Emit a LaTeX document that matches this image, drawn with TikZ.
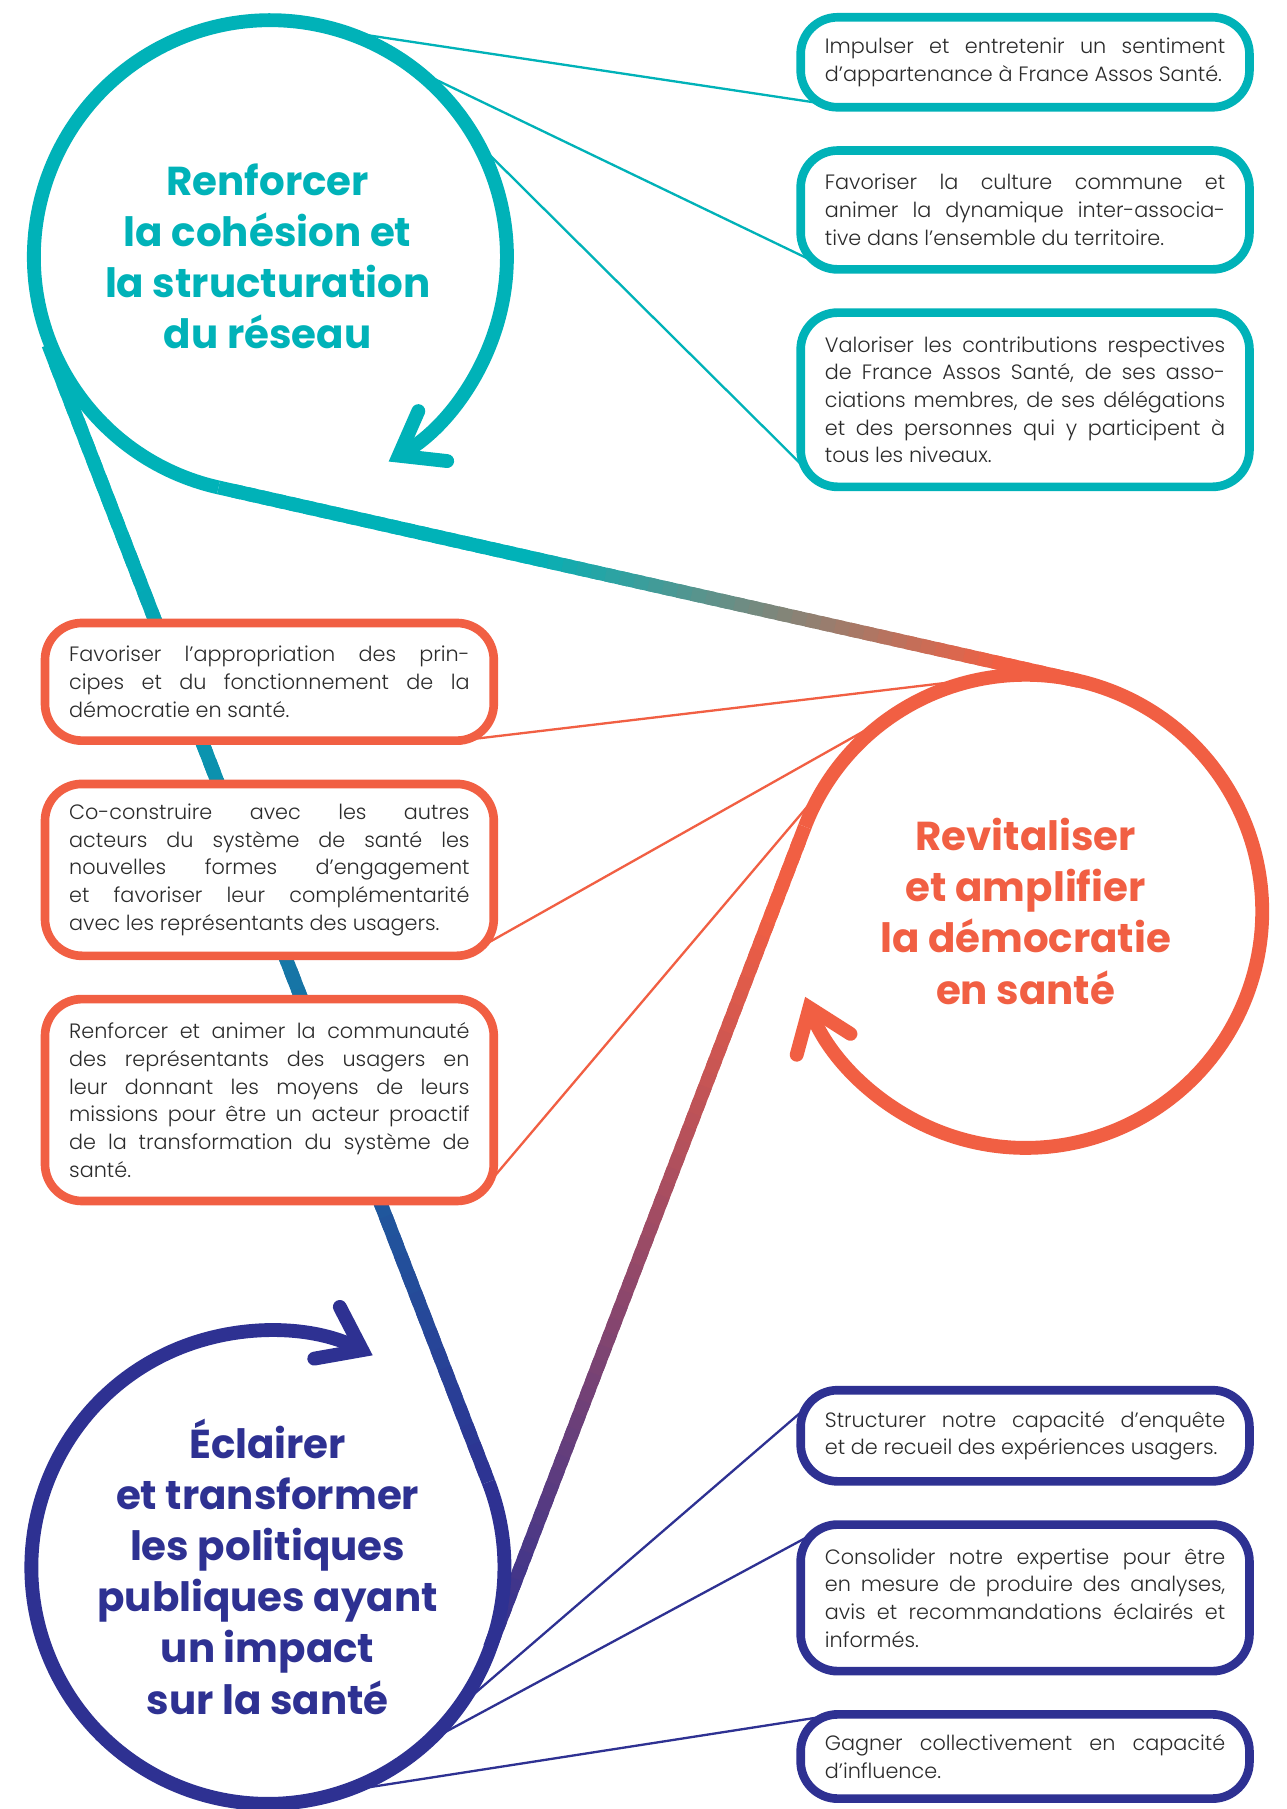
\documentclass[tikz,border=0pt]{standalone}
\usepackage{fontspec}
\setmainfont{Poppins Light}
\newfontfamily\titlefont{Poppins Bold}
\usetikzlibrary{positioning,calc,arrows.meta}

\definecolor{tealc}{HTML}{00B2B8}
\definecolor{redc}{HTML}{F15F43}
\definecolor{bluec}{HTML}{2E3192}
\definecolor{textc}{HTML}{2B2B2B}

\pgfdeclarelayer{paper}
\pgfdeclarelayer{back}
\pgfsetlayers{paper,back,main}

% one justified line of a box
\newcommand{\jl}[1]{\makebox[347pt][s]{#1}\\}
% thick line with a colour fade: from, to, colour a, colour b, fade start, fade end
\newcommand{\fadeline}[6]{%
  \foreach \i in {0,...,59}{%
    \pgfmathsetmacro\mixp{100*min(1,max(0,(#6-\i/60)/(#6-#5)))}%
    \pgfmathsetmacro\nxt{min(\i+1.6,60)/60}%
    \draw[ribbon,color=#3!\mixp!#4] ($(#1)!\i/60!(#2)$) -- ($(#1)!\nxt!(#2)$);
  }}

\begin{document}
\begin{tikzpicture}[x=1pt,y=1pt,
  goal/.style={circle,minimum size=410pt,inner sep=0pt,outer sep=0pt,align=center,
    font=\titlefont\fontsize{35}{44.3}\selectfont},
  aim/.style={draw=#1,line width=7.5pt,fill=white,rounded corners=32pt,
    text width=347pt,inner xsep=21pt,inner ysep=0pt,outer sep=0pt,align=flush left,
    text=textc,font=\fontsize{18}{24}\selectfont},
  link/.style={line width=2pt},
  ribbon/.style={line width=12pt,line cap=butt},
  arrowend/.style={-{Straight Barb[length=34pt,width=50pt,line cap=round,line join=miter]}}]

  \begin{pgfonlayer}{paper}
    \fill[white] (0,0) rectangle (1115,1568);
  \end{pgfonlayer}
  \useasboundingbox (0,0) rectangle (1115,1568);

  % the three goals
  \node[goal,text=tealc] (tc) at (232,1346) {Renforcer\\la cohésion et\\la structuration\\du réseau};
  \node[goal,text=redc] (rc) at (889,778) {Revitaliser\\et amplifier\\la démocratie\\en santé};
  \node[goal,text=bluec] (bc) at (232,210) {Éclairer\\et transformer\\les politiques\\publiques ayant\\un impact\\sur la santé};

  % boxes
  \node[aim=tealc,minimum height=78pt] (b1) at (888.5,1514)
    {\jl{Impulser et entretenir un sentiment}d’appartenance à France Assos Santé.};
  \node[aim=tealc,minimum height=103pt,below=37.5pt of b1] (b2)
    {\jl{Favoriser la culture commune et}\jl{animer la dynamique inter-associa-}tive dans l’ensemble du territoire.};
  \node[aim=tealc,minimum height=151pt,below=37.5pt of b2] (b3)
    {\jl{Valoriser les contributions respectives}\jl{de France Assos Santé, de ses asso-}\jl{ciations membres, de ses délégations}\jl{et des personnes qui y participent à}tous les niveaux.};

  \node[aim=redc,minimum height=102pt] (b4) at (233.5,977)
    {\jl{Favoriser l’appropriation des prin-}\jl{cipes et du fonctionnement de la}démocratie en santé.};
  \node[aim=redc,minimum height=149pt,below=37.5pt of b4] (b5)
    {\jl{Co-construire avec les autres}\jl{acteurs du système de santé les}\jl{nouvelles formes d’engagement}\jl{et favoriser leur complémentarité}avec les représentants des usagers.};
  \node[aim=redc,minimum height=175pt,below=37.5pt of b5] (b6)
    {\jl{Renforcer et animer la communauté}\jl{des représentants des usagers en}\jl{leur donnant les moyens de leurs}\jl{missions pour être un acteur proactif}\jl{de la transformation du système de}santé.};

  \node[aim=bluec,minimum height=79pt] (b7) at (888.5,323.5)
    {\jl{Structurer notre capacité d’enquête}et de recueil des expériences usagers.};
  \node[aim=bluec,minimum height=127pt,below=37.5pt of b7] (b8)
    {\jl{Consolider notre expertise pour être}\jl{en mesure de produire des analyses,}\jl{avis et recommandations éclairés et}informés.};
  \node[aim=bluec,minimum height=73pt,below=37.5pt of b8] (b9)
    {\jl{Gagner collectivement en capacité}d’influence.};

  \begin{pgfonlayer}{back}
    % lines between the loops
    \fadeline{tc.-102.68}{rc.77.32}{tealc}{redc}{0.35}{0.9}
    \fadeline{tc.-158.84}{bc.21.16}{tealc}{bluec}{0.15}{1}
    \fadeline{rc.159.02}{bc.-20.98}{redc}{bluec}{0.1}{1}
    % loops
    \draw[ribbon,tealc,arrowend] (tc.-102.68) arc[start angle=-102.68,end angle=-420,radius=205];
    \draw[ribbon,redc,arrowend] (rc.159.02) arc[start angle=159.02,end angle=-158.8,radius=205];
    \draw[ribbon,bluec,arrowend] (bc.21.16) arc[start angle=21.16,end angle=-296.3,radius=205];
    % connectors
    \draw[link,tealc] (tc.72) -- ([xshift=40pt]b1.south west);
    \draw[link,tealc] (tc.53) -- ([shift={(11pt,7pt)}]b2.south west);
    \draw[link,tealc] (tc.30) -- ([shift={(3pt,17pt)}]b3.south west);
    \draw[link,redc] (rc.99) -- ([xshift=-30pt]b4.south east);
    \draw[link,redc] (rc.118) -- ([shift={(-9pt,9pt)}]b5.south east);
    \draw[link,redc] (rc.132) -- ([shift={(-4pt,16pt)}]b6.south east);
    \draw[link,bluec] (bc.-37) -- ([shift={(5pt,-15pt)}]b7.north west);
    \draw[link,bluec] (bc.-48) -- ([shift={(9pt,-9pt)}]b8.north west);
    \draw[link,bluec] (bc.-72) -- ([xshift=32pt]b9.north west);
  \end{pgfonlayer}
\end{tikzpicture}
\end{document}
